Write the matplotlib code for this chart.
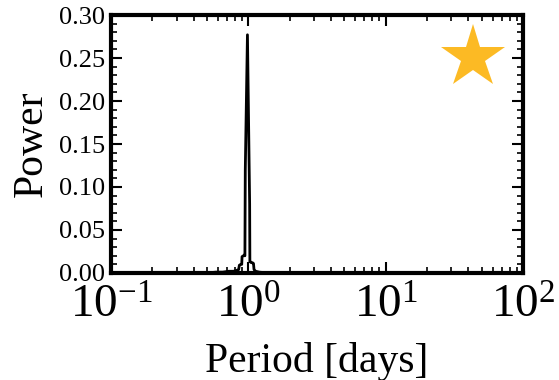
import matplotlib
matplotlib.use("Agg")
import matplotlib.pyplot as plt
from matplotlib.ticker import MultipleLocator, LogLocator, NullFormatter

plt.rcParams['font.family'] = ['Liberation Serif', 'DejaVu Serif']
plt.rcParams['mathtext.fontset'] = 'custom'
plt.rcParams['mathtext.rm'] = 'Liberation Serif'
plt.rcParams['mathtext.it'] = 'Liberation Serif:italic'
plt.rcParams['mathtext.bf'] = 'Liberation Serif:bold'

# Periodogram (period in days, power)
period = [0.10, 0.13, 0.16, 0.20, 0.25, 0.30, 0.36, 0.42, 0.50, 0.58, 0.65,
          0.72, 0.78, 0.82, 0.85, 0.86, 0.88, 0.895, 0.90, 0.92, 0.935,
          0.940, 0.944, 0.950, 0.985, 1.022, 1.026, 1.035, 1.05, 1.07, 1.09,
          1.10, 1.13, 1.20, 1.40, 1.70, 2.0, 2.5, 3.0, 4.0, 5.0, 6.5, 8.0,
          10.0, 13.0, 17.0, 22.0, 30.0, 40.0, 55.0, 75.0, 100.0]
power = [0.000, 0.000, 0.000, 0.000, 0.000, 0.000, 0.000, 0.000, 0.000, 0.001,
         0.001, 0.002, 0.002, 0.003, 0.004, 0.009, 0.010, 0.010, 0.019, 0.020,
         0.021, 0.020, 0.020, 0.120, 0.277, 0.080, 0.013, 0.013, 0.012, 0.012,
         0.011, 0.004, 0.002, 0.001, 0.000, 0.000, 0.000, 0.000, 0.000, 0.000,
         0.000, 0.000, 0.000, 0.000, 0.000, 0.000, 0.000, 0.000, 0.000, 0.000,
         0.000, 0.000]

xlim = (0.1, 100)
ylim = (0.0, 0.30)
star_pos = (0.879, 0.837)

fig = plt.figure(figsize=(5.59, 3.80), dpi=100)
ax = fig.add_axes([0.1986, 0.2816, 0.7370, 0.6789])
ax.plot(period, power, color='black', lw=2.0)
ax.set_xscale('log')
ax.set_xlim(*xlim)
ax.set_ylim(*ylim)

ax.plot([star_pos[0]], [star_pos[1]], marker='*', markersize=48,
        color='#FCBA24', markeredgewidth=0, transform=ax.transAxes, clip_on=False)

ax.yaxis.set_major_locator(MultipleLocator(0.05))
ax.yaxis.set_minor_locator(MultipleLocator(0.01))
ax.yaxis.set_major_formatter(matplotlib.ticker.FormatStrFormatter('%.2f'))
ax.xaxis.set_major_locator(LogLocator(base=10, numticks=10))
ax.xaxis.set_minor_locator(LogLocator(base=10, subs=range(2, 10), numticks=20))
ax.xaxis.set_minor_formatter(NullFormatter())

ax.tick_params(which='both', direction='in', top=True, right=True, color='black')
ax.tick_params(which='major', length=8, width=1.5)
ax.tick_params(which='minor', length=4, width=1.2)
ax.tick_params(axis='y', labelsize=19, pad=4)
ax.tick_params(axis='x', labelsize=34, pad=9)
for s in ax.spines.values():
    s.set_linewidth(3)

ax.set_ylabel('Power', fontsize=30, labelpad=6)
ax.set_xlabel('Period [days]', fontsize=30, labelpad=10)

fig.savefig('out.png', dpi=100)
